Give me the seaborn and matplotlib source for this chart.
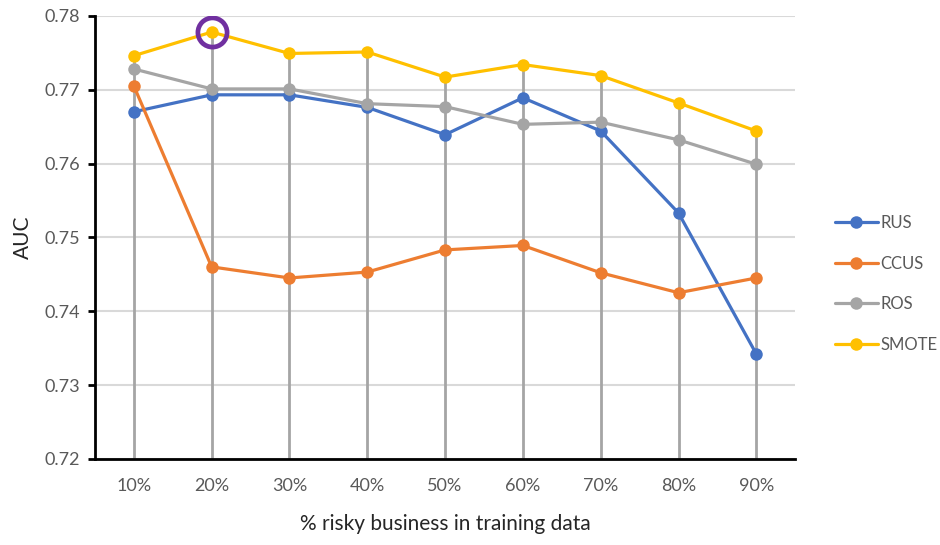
import pandas as pd
import numpy as np
import seaborn as sns
import matplotlib
matplotlib.use('Agg')
import matplotlib.pyplot as plt

# ====================
# Data
# ====================

pct_labels = ['10%', '20%', '30%', '40%', '50%', '60%', '70%', '80%', '90%']
rus = [0.7670, 0.7693, 0.7693, 0.7676, 0.7639, 0.7689, 0.7644, 0.7533, 0.7342]
ccus = [0.7705, 0.7460, 0.7445, 0.7453, 0.7483, 0.7489, 0.7452, 0.7425, 0.7445]
ros = [0.7728, 0.7701, 0.7701, 0.7681, 0.7677, 0.7653, 0.7656, 0.7632, 0.7599]
smote = [0.7746, 0.7778, 0.7749, 0.7751, 0.7717, 0.7734, 0.7719, 0.7682, 0.7644]
methods = ['RUS', 'CCUS', 'ROS', 'SMOTE']
highlight = ('SMOTE', 1)

series = dict(zip(methods, [rus, ccus, ros, smote]))
df = pd.DataFrame([
    {'pos': i, 'pct': lab, 'method': m, 'auc': vals[i]}
    for m, vals in series.items()
    for i, lab in enumerate(pct_labels)
])

# ====================
# Plotting
# ====================

sns.set_style('white')
plt.rcParams['font.family'] = ['Liberation Sans Narrow', 'Lato', 'DejaVu Sans']

colors = ['#4472C4', '#ED7D31', '#A5A5A5', '#FFC000']

fig = plt.figure(figsize=(9.4, 5.45), dpi=100)
ax = fig.add_axes([0.101, 0.158, 0.745, 0.813])

# drop lines from the axis up to the highest series
top = df.groupby('pos')['auc'].max()
ax.vlines(top.index, 0.72, top.values, color='#A5A5A5', lw=2, zorder=1)

sns.lineplot(data=df, x='pos', y='auc', hue='method', hue_order=methods,
             palette=colors, marker='o', markersize=9, markeredgewidth=0,
             linewidth=2.3, ax=ax, zorder=3)

hx = highlight[1]
hy = series[highlight[0]][hx]
ax.plot([hx], [hy], marker='o', markersize=21, markerfacecolor='none',
        markeredgecolor='#7030A0', markeredgewidth=3.4, zorder=5)

ax.set_xlim(-0.5, len(pct_labels) - 0.5)
ax.set_ylim(0.72, 0.78)
ax.set_xticks(range(len(pct_labels)))
ax.set_xticklabels(pct_labels)
ax.set_yticks(np.arange(0.72, 0.7801, 0.01))
ax.set_yticklabels(['%.2f' % v for v in np.arange(0.72, 0.7801, 0.01)])
ax.yaxis.grid(True, color='#D9D9D9', lw=1.5)
ax.set_axisbelow(True)

for s in ['top', 'right']:
    ax.spines[s].set_visible(False)
ax.spines['left'].set_color('black')
ax.spines['left'].set_linewidth(2)
ax.spines['bottom'].set_color('black')
ax.spines['bottom'].set_linewidth(2)

ax.tick_params(axis='y', direction='out', length=5, width=2, color='black',
               labelsize=13, labelcolor='#595959', pad=6, left=True)
ax.tick_params(axis='x', length=0, labelsize=13, labelcolor='#595959', pad=14)

ax.set_xlabel('% risky business in training data', fontsize=15, labelpad=14)
ax.set_ylabel('AUC', fontsize=15, labelpad=8)

handles, labels = ax.get_legend_handles_labels()
ax.legend(handles, labels, loc='center left', bbox_to_anchor=(1.035, 0.395),
          frameon=False, fontsize=12, labelspacing=1.47, handlelength=2.6,
          handletextpad=0.15, labelcolor='#595959')

plt.savefig('out.png', dpi=100)
